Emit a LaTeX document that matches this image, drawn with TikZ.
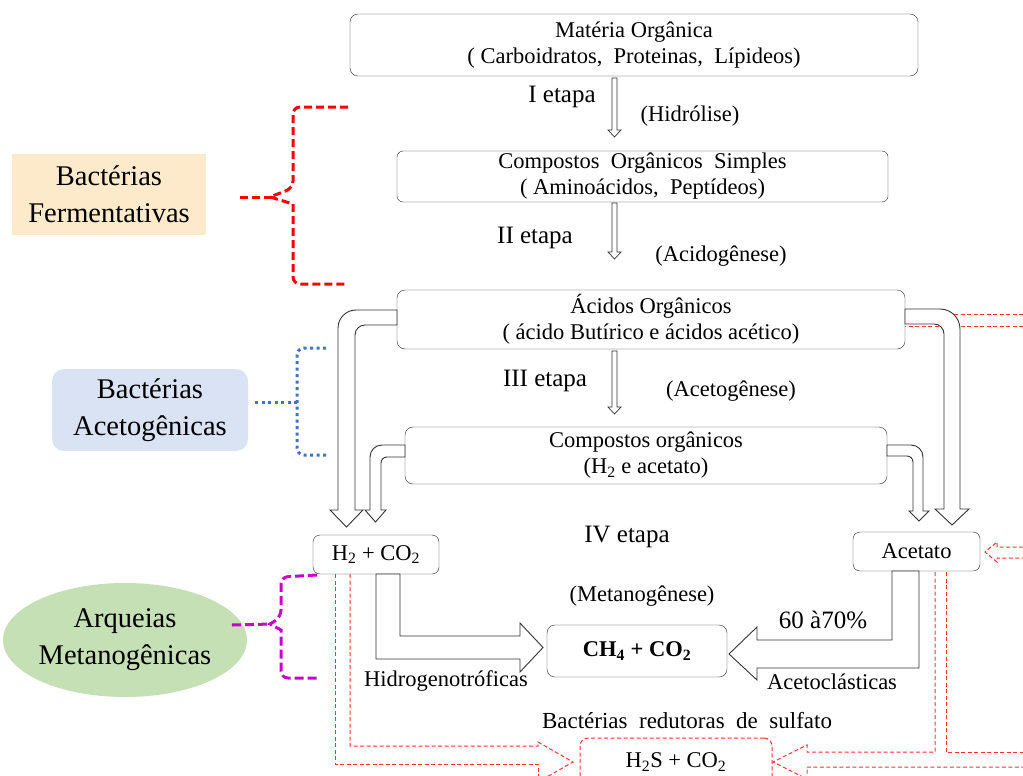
\documentclass[tikz,border=0pt]{standalone}
\usepackage{fontspec}
\setmainfont{Liberation Serif}
\usetikzlibrary{shapes.geometric,positioning}
\definecolor{fermfill}{RGB}{252,234,202}
\definecolor{acetfill}{RGB}{218,227,243}
\definecolor{metfill}{RGB}{197,224,180}
\definecolor{acetline}{RGB}{68,114,196}
\definecolor{metline}{RGB}{204,0,204}
\newcommand{\etapaarrow}[3]{\draw[thinhollow] ({#1-2.5},#2) -- ({#1-2.5},{#3-7}) -- ({#1-6.5},{#3-7}) -- (#1,#3) -- ({#1+6.5},{#3-7}) -- ({#1+2.5},{#3-7}) -- ({#1+2.5},#2) -- cycle;}

\begin{document}
\begin{tikzpicture}[x=1pt,y=-1pt,
  box/.style={draw=black!85,fill=white,rounded corners=8pt,align=center,inner sep=0pt,font=\fontsize{22.5}{26}\selectfont},
  lbl/.style={inner sep=0pt,font=\fontsize{22.5}{26}\selectfont},
  etapa/.style={inner sep=0pt,font=\fontsize{25}{28}\selectfont},
  group/.style={align=center,inner sep=0pt,font=\fontsize{28.5}{37}\selectfont},
  hollow/.style={draw=black!80,fill=white,line width=0.9pt},
  thinhollow/.style={draw=black!80,fill=white,line width=0.7pt},
  redline/.style={draw=red!80,dash pattern=on 4pt off 2.5pt,line width=1pt},
  fermbrace/.style={draw=red,line width=3pt,dash pattern=on 8pt off 4pt,rounded corners=7pt},
  acetbrace/.style={draw=acetline,line width=3pt,dash pattern=on 3pt off 3.5pt,rounded corners=7pt},
  metbrace/.style={draw=metline,line width=3pt,dash pattern=on 9pt off 4pt,rounded corners=7pt}]
\clip (0,0) rectangle (1023,776);

% grupos de microrganismos
\node[group,fill=fermfill,minimum width=194pt,minimum height=81pt] (ferm) at (109,194) {Bactérias\\Fermentativas};
\node[group,fill=acetfill,rounded corners=12pt,minimum width=196pt,minimum height=82pt] (aceto) at (150,410) {Bactérias\\Acetogênicas};
\node[group,ellipse,fill=metfill,minimum width=206pt,minimum height=114pt] (arq) at (125,640) {Arqueias\\Metanogênicas};

% chaves
\draw[fermbrace] (240,197) -- (272,197);
\draw[fermbrace] (348,107) -- (293,107) -- (293,188) [sharp corners] -- (270,197) -- (293,204) [rounded corners=7pt] -- (293,284) -- (348,284);
\draw[acetbrace] (255,402) -- (297,402);
\draw[acetbrace] (326,348) -- (297,348) -- (297,455) -- (326,455);
\draw[metbrace] (232,625) -- (272,624);
\draw[metbrace] (317,575) -- (281,577) -- (281,617) [sharp corners] -- (270,624) -- (281,630) [rounded corners=7pt] -- (281,678) -- (317,678);

% linhas tracejadas (sulfato)
\draw[redline] (1023,314) -- (905,314);
\draw[redline] (1023,326) -- (905,326);
\draw[redline] (1023,547) -- (997,547) -- (997,542) -- (985,552) -- (997,562) -- (997,558) -- (1023,558);
\draw[redline] (935,572) -- (935,752) -- (807,752) -- (807,745) -- (773,762) -- (807,779) -- (807,767) -- (1023,767);
\draw[redline] (946,572) -- (946,752) -- (1023,752);
\draw[redline] (350,574) -- (350,746) -- (538,746) -- (538,742) -- (573,762) -- (538,782);
\draw[redline] (335,574) -- (335,764) -- (538,764) -- (538,782);

% caixas
\node[box,minimum width=568pt,minimum height=62pt] (mo) at (634,45) {Matéria Orgânica\\( Carboidratos,\ \ Proteinas,\ \ Lípideos)};
\node[box,rounded corners=6pt,minimum width=491pt,minimum height=51pt] (cos) at (642.5,176.5) {Compostos\ \ Orgânicos\ \ Simples\\( Aminoácidos,\ \ Peptídeos)};
\node[box,minimum width=508pt,minimum height=59pt] (ao) at (651,319.5) {Ácidos Orgânicos\\( ácido Butírico e ácidos acético)};
\node[box,minimum width=482pt,minimum height=57pt] (co) at (646,455.5) {Compostos orgânicos\\(H\textsubscript{2} e acetato)};
\node[box,rounded corners=7pt,minimum width=126pt,minimum height=39pt] (h2) at (376,554.5) {H\textsubscript{2} + CO\textsubscript{2}};
\node[box,rounded corners=7pt,minimum width=127pt,minimum height=39pt] (acet) at (916.5,551.5) {Acetato};
\node[box,minimum width=180pt,minimum height=52pt] (ch4) at (637,651) {\textbf{CH\textsubscript{4} + CO\textsubscript{2}}};
\node[box,draw=red!80,dash pattern=on 4pt off 2.5pt,line width=1pt,minimum width=192pt,minimum height=48pt] (h2s) at (676,762) {H\textsubscript{2}S + CO\textsubscript{2}};

% setas das etapas
\etapaarrow{614.5}{78}{137}
\etapaarrow{614.5}{203}{259}
\etapaarrow{614.5}{351}{414}

% setas largas
\draw[hollow] (397,310) [rounded corners=18pt] -- (338,310) [sharp corners] -- (338,510) -- (330,510) -- (346.5,527) -- (363,510) -- (355,510) [rounded corners=10pt] -- (355,325) [sharp corners] -- (397,325) -- cycle;
\draw[hollow] (405,445) [rounded corners=12pt] -- (370,445) [sharp corners] -- (370,510) -- (365,510) -- (375.5,522) -- (386,510) -- (381,510) [rounded corners=6pt] -- (381,457) [sharp corners] -- (405,457) -- cycle;
\draw[hollow] (905,309) [rounded corners=20pt] -- (960,309) [sharp corners] -- (960,509) -- (969,509) -- (952,525) -- (935,509) -- (944,509) [rounded corners=10pt] -- (944,324) [sharp corners] -- (905,324) -- cycle;
\draw[hollow] (887,445) [rounded corners=12pt] -- (923,445) [sharp corners] -- (923,511) -- (929,511) -- (919,521) -- (909,511) -- (913,511) [rounded corners=6pt] -- (913,456) [sharp corners] -- (887,456) -- cycle;
\draw[hollow] (376,574) -- (376,659) -- (520,659) -- (520,672) -- (543,647.5) -- (520,623) -- (520,636) -- (400,636) -- (400,574) -- cycle;
\draw[hollow] (892,571) -- (892,640) -- (757,640) -- (757,627) -- (729,654) -- (757,680) -- (757,668) -- (919,668) -- (919,571) -- cycle;

% textos
\node[etapa] (e1) at (562,97) {I etapa};
\node[lbl] (hid) at (690,116) {(Hidrólise)};
\node[etapa] (e2) at (535,238) {II etapa};
\node[lbl] (acid) at (721,256) {(Acidogênese)};
\node[etapa] (e3) at (545,381) {III etapa};
\node[lbl] (acetog) at (731,391) {(Acetogênese)};
\node[etapa] (e4) at (627,537) {IV etapa};
\node[lbl] (metan) at (642,596) {(Metanogênese)};
\node[etapa] (pct) at (823,620) {60 à70\%};
\node[lbl] (hidro) at (446,681) {Hidrogenotróficas};
\node[lbl] (acl) at (832,682) {Acetoclásticas};
\node[lbl,font=\fontsize{23}{26}\selectfont] (brs) at (687,721) {Bactérias\ \ redutoras\ \ de\ \ sulfato};
\end{tikzpicture}
\end{document}
